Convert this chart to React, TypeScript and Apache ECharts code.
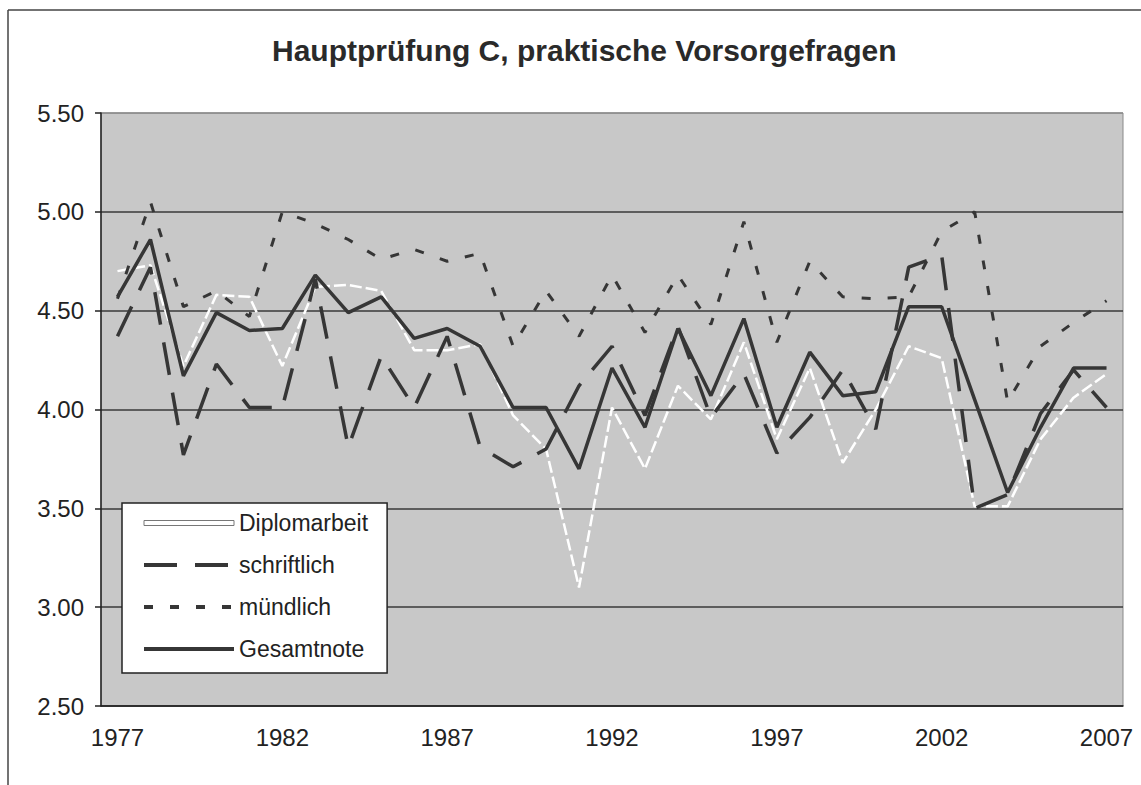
import React, { useEffect, useRef } from "react";
import * as echarts from "echarts";

const years = [
  "1977", "1978", "1979", "1980", "1981", "1982", "1983", "1984", "1985", "1986",
  "1987", "1988", "1989", "1990", "1991", "1992", "1993", "1994", "1995", "1996",
  "1997", "1998", "1999", "2000", "2001", "2002", "2003", "2004", "2005", "2006", "2007",
];

const diplomarbeit = [
  4.70, 4.73, 4.22, 4.58, 4.57, 4.22, 4.62, 4.63, 4.60, 4.30,
  4.30, 4.33, 3.97, 3.80, 3.10, 4.01, 3.70, 4.12, 3.95, 4.34,
  3.85, 4.21, 3.73, 4.00, 4.32, 4.26, 3.51, 3.51, 3.85, 4.06, 4.18,
];

const schriftlich = [
  4.37, 4.72, 3.77, 4.23, 4.01, 4.01, 4.66, 3.81, 4.27, 4.01,
  4.37, 3.81, 3.71, 3.80, 4.12, 4.32, 3.97, 4.42, 3.96, 4.18,
  3.78, 3.96, 4.20, 3.90, 4.72, 4.78, 3.50, 3.57, 3.98, 4.20, 4.01,
];

const muendlich = [
  4.56, 5.05, 4.52, 4.60, 4.47, 5.00, 4.94, 4.86, 4.76, 4.81,
  4.75, 4.79, 4.32, 4.60, 4.37, 4.68, 4.39, 4.68, 4.43, 4.95,
  4.34, 4.75, 4.57, 4.56, 4.57, 4.90, 5.00, 4.04, 4.32, 4.44, 4.55,
];

const gesamtnote = [
  4.57, 4.86, 4.17, 4.49, 4.40, 4.41, 4.68, 4.49, 4.57, 4.36,
  4.41, 4.32, 4.01, 4.01, 3.70, 4.21, 3.91, 4.41, 4.07, 4.46,
  3.91, 4.29, 4.07, 4.09, 4.52, 4.52, 4.05, 3.58, 3.91, 4.21, 4.21,
];

const titleText = "Hauptprüfung C, praktische Vorsorgefragen";
const FONT = "Liberation Sans, Arial, sans-serif";
const DARK = "#363636";

export default function App() {
  const ref = useRef<HTMLDivElement>(null);
  useEffect(() => {
    if (!ref.current) return;
    const chart = echarts.init(ref.current, null, { renderer: "svg" });
    chart.setOption({
      animation: false,
      backgroundColor: "#ffffff",
      textStyle: { fontFamily: FONT },
      title: {
        text: titleText,
        left: 267,
        top: 30,
        textStyle: { fontFamily: FONT, fontSize: 30, fontWeight: "bold", color: "#2a2a2a" },
      },
      graphic: [
        { type: "line", shape: { x1: 8, y1: 10, x2: 8, y2: 785 }, style: { stroke: "#444", lineWidth: 1.5 } },
        { type: "line", shape: { x1: 8, y1: 10, x2: 1141, y2: 10 }, style: { stroke: "#444", lineWidth: 1.5 } },
      ],
      grid: {
        left: 101,
        right: 18,
        top: 113,
        bottom: 79,
        show: true,
        backgroundColor: "#c8c8c8",
        borderColor: "#8a8a8a",
        borderWidth: 1,
      },
      legend: {
        orient: "vertical",
        left: 122,
        top: 503,
        backgroundColor: "#ffffff",
        borderColor: "#222",
        borderWidth: 1.5,
        borderRadius: 0,
        padding: [8, 19, 12, 20],
        itemWidth: 90,
        itemHeight: 5,
        itemGap: 18,
        itemStyle: { opacity: 0 },
        lineStyle: { width: 4 },
        textStyle: { fontFamily: FONT, fontSize: 23, color: "#222", lineHeight: 24 },
        data: [
          { name: "Diplomarbeit", icon: "rect", itemStyle: { opacity: 1, color: "#ffffff", borderColor: "#777", borderWidth: 1 } },
          { name: "schriftlich" },
          { name: "mündlich" },
          { name: "Gesamtnote" },
        ],
      },
      xAxis: {
        type: "category",
        data: years,
        boundaryGap: true,
        axisLine: { lineStyle: { color: "#222", width: 1.5 } },
        axisTick: { interval: 4, length: 6, lineStyle: { color: "#222", width: 1.5 } },
        axisLabel: { interval: 4, fontFamily: FONT, fontSize: 24, color: "#222", margin: 19 },
        splitLine: { show: false },
      },
      yAxis: {
        type: "value",
        min: 2.5,
        max: 5.5,
        interval: 0.5,
        axisLine: { show: true, lineStyle: { color: "#222", width: 1.5 } },
        axisTick: { show: true, length: 6, lineStyle: { color: "#222", width: 1.5 } },
        axisLabel: {
          fontFamily: FONT,
          fontSize: 24,
          color: "#222",
          margin: 17,
          formatter: (v: number) => v.toFixed(2),
        },
        splitLine: {
          show: true,
          lineStyle: { color: ["#3a3a3a", "#3a3a3a", "#3a3a3a", "#3a3a3a", "#3a3a3a", "#3a3a3a", "#8a8a8a"], width: 1.5 },
        },
      },
      series: [
        {
          name: "Diplomarbeit",
          type: "line",
          data: diplomarbeit,
          symbol: "none",
          color: "#ffffff",
          lineStyle: { color: "#ffffff", width: 2.5, type: [12, 4] },
          z: 2,
        },
        {
          name: "schriftlich",
          type: "line",
          data: schriftlich,
          symbol: "none",
          color: DARK,
          lineStyle: { color: DARK, width: 3.5, type: [33, 18] },
          z: 3,
        },
        {
          name: "mündlich",
          type: "line",
          data: muendlich,
          symbol: "none",
          color: DARK,
          lineStyle: { color: DARK, width: 3, type: [9, 17] },
          z: 4,
        },
        {
          name: "Gesamtnote",
          type: "line",
          data: gesamtnote,
          symbol: "none",
          color: DARK,
          lineStyle: { color: DARK, width: 3.5 },
          z: 5,
        },
      ],
    });
    return () => chart.dispose();
  }, []);
  return (
    <div
      ref={ref}
      style={{ position: "fixed", left: 0, top: 0, width: 1141, height: 785 }}
    />
  );
}
